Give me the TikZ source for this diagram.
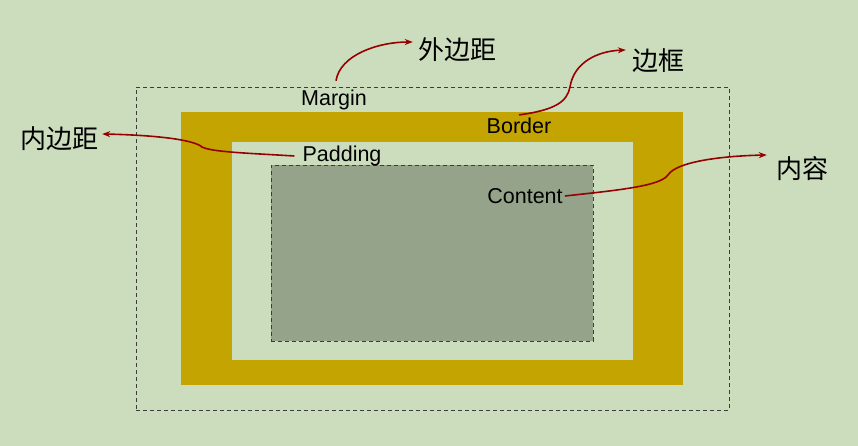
\documentclass[tikz,border=0pt]{standalone}
\usepackage{fontspec}
\setmainfont{Liberation Sans}
\newfontfamily\cjk{Noto Sans CJK SC}
\usetikzlibrary{arrows.meta}
\definecolor{bg}{RGB}{204,221,189}
\definecolor{gold}{RGB}{196,164,0}
\definecolor{cont}{RGB}{148,163,138}
\definecolor{dred}{RGB}{150,0,0}
\definecolor{dash}{RGB}{60,60,60}
\tikzset{
  lbl/.style={font=\fontsize{21.5}{24}\selectfont, inner sep=2pt, text=black},
  zh/.style={font=\cjk\fontsize{26}{30}\selectfont, inner sep=3pt, text=black},
  pointer/.style={draw=dred, line width=1.6pt, -{Stealth[length=8pt,width=6pt]}},
  dashbox/.style={draw=dash, dash pattern=on 4pt off 3pt, line width=0.9pt},
}
\begin{document}
\begin{tikzpicture}[x=1pt,y=-1pt]
\fill[bg] (0,0) rectangle (858,446);
\useasboundingbox (0,0) rectangle (858,446);
% boxes
\node[dashbox, minimum width=593pt, minimum height=323pt, inner sep=0, anchor=north west] (margin) at (136,87) {};
\node[fill=gold, minimum width=502pt, minimum height=273pt, inner sep=0, anchor=north west] (border) at (181,112) {};
\node[fill=bg, minimum width=401pt, minimum height=218pt, inner sep=0, anchor=north west] (padding) at (232,142) {};
\node[dashbox, fill=cont, minimum width=322pt, minimum height=176pt, inner sep=0, anchor=north west] (content) at (271,165) {};
% labels
\node[lbl] (tMargin) at (334,100) {Margin};
\node[lbl] (tBorder) at (519,126) {Border};
\node[lbl] (tPadding) at (342,156) {Padding};
\node[lbl] (tContent) at (525,196) {Content};
\node[zh] (zMargin) at (457,50) {外边距};
\node[zh] (zBorder) at (658,61) {边框};
\node[zh] (zPadding) at (59,139) {内边距};
\node[zh] (zContent) at (802,169) {内容};
% arrows
\draw[pointer] ([xshift=2pt,yshift=7pt]tMargin.north) .. controls (340,55) and (378,42) .. ([xshift=-2pt,yshift=8pt]zMargin.west);
\draw[pointer] ([yshift=1pt]tBorder.north) .. controls (555,110) and (567,102) .. (570,87) .. controls (574,62) and (598,51) .. ([xshift=-3pt,yshift=11pt]zBorder.west);
\draw[pointer] ([xshift=-6pt]tPadding.west) .. controls (245,153) and (212,152) .. (202,147) .. controls (193,139) and (150,135) .. ([xshift=1pt,yshift=5pt]zPadding.east);
\draw[pointer] (tContent.east) .. controls (620,190) and (660,186) .. (668,175) .. controls (676,162) and (720,156) .. ([xshift=-6pt,yshift=14pt]zContent.west);
\end{tikzpicture}
\end{document}
